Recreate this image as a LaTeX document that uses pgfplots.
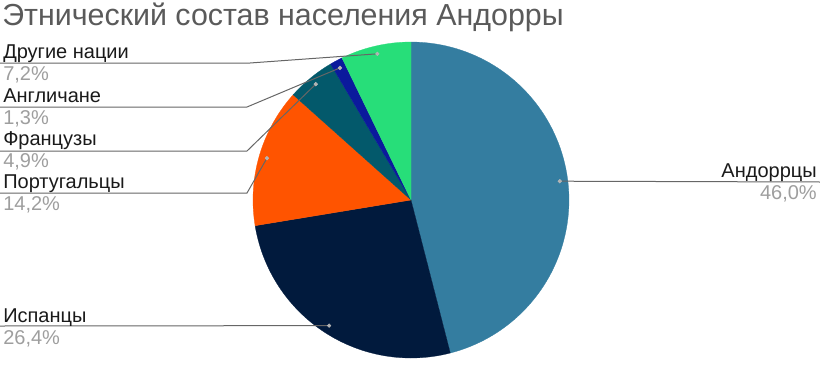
\documentclass[border=0pt]{standalone}
\usepackage{pgfplots}
\usepackage{pgfplotstable}
\pgfplotsset{compat=1.18}
\usepackage{fontspec}
\setmainfont{Liberation Sans}
\definecolor{cA}{HTML}{347DA0}
\definecolor{cB}{HTML}{011A3D}
\definecolor{cC}{HTML}{FF5400}
\definecolor{cD}{HTML}{03596B}
\definecolor{cE}{HTML}{0B1A9C}
\definecolor{cF}{HTML}{27DE79}
\definecolor{ttl}{HTML}{5A5A5A}
\definecolor{pct}{HTML}{9E9E9E}
\definecolor{lead}{HTML}{666666}
\definecolor{txt}{HTML}{1A1A1A}
\pgfplotstableread{
idx value
0 46.0
1 26.4
2 14.2
3 4.9
4 1.3
5 7.2
}\piedata
\newcommand\getval[2]{\pgfplotstablegetelem{#1}{value}\of\piedata\let#2\pgfplotsretval}
\begin{document}
\begin{tikzpicture}
\getval{0}\vA \getval{1}\vB \getval{2}\vC \getval{3}\vD \getval{4}\vE \getval{5}\vF
\def\R{158}\def\r{150}\def\cx{411}\def\cy{200}
\pgfmathsetmacro\aA{90}
\pgfmathsetmacro\bA{\aA-3.6*\vA}
\pgfmathsetmacro\bB{\bA-3.6*\vB}
\pgfmathsetmacro\bC{\bB-3.6*\vC}
\pgfmathsetmacro\bD{\bC-3.6*\vD}
\pgfmathsetmacro\bE{\bD-3.6*\vE}
\pgfmathsetmacro\bF{\bE-3.6*\vF}
% mid points
\pgfmathsetmacro\mA{(\aA+\bA)/2}
\pgfmathsetmacro\mB{(\bA+\bB)/2}
\pgfmathsetmacro\mC{(\bB+\bC)/2}
\pgfmathsetmacro\mD{(\bC+\bD)/2}
\pgfmathsetmacro\mE{(\bD+\bE)/2}
\pgfmathsetmacro\mF{(\bE+\bF)/2}
\pgfmathsetmacro\xA{\cx+\r*cos(\mA)}\pgfmathsetmacro\yA{\cy-\r*sin(\mA)}
\pgfmathsetmacro\xB{\cx+\r*cos(\mB)}\pgfmathsetmacro\yB{\cy-\r*sin(\mB)}
\pgfmathsetmacro\xC{\cx+\r*cos(\mC)}\pgfmathsetmacro\yC{\cy-\r*sin(\mC)}
\pgfmathsetmacro\xD{\cx+\r*cos(\mD)}\pgfmathsetmacro\yD{\cy-\r*sin(\mD)}
\pgfmathsetmacro\xE{\cx+\r*cos(\mE)}\pgfmathsetmacro\yE{\cy-\r*sin(\mE)}
\pgfmathsetmacro\xF{\cx+\r*cos(\mF)}\pgfmathsetmacro\yF{\cy-\r*sin(\mF)}
\begin{axis}[
  name=ax,
  scale only axis, width=615pt, height=273pt,
  xmin=0, xmax=820, ymin=0, ymax=364, y dir=reverse,
  hide axis, clip=false,
]
\addplot[fill=cA, draw=cA, line width=0.2pt, domain=\bA:\aA, samples=90, variable=\t] ({\cx+\R*cos(\t)},{\cy-\R*sin(\t)}) -- (axis cs:\cx,\cy) -- cycle;
\addplot[fill=cB, draw=cB, line width=0.2pt, domain=\bB:\bA, samples=60, variable=\t] ({\cx+\R*cos(\t)},{\cy-\R*sin(\t)}) -- (axis cs:\cx,\cy) -- cycle;
\addplot[fill=cC, draw=cC, line width=0.2pt, domain=\bC:\bB, samples=40, variable=\t] ({\cx+\R*cos(\t)},{\cy-\R*sin(\t)}) -- (axis cs:\cx,\cy) -- cycle;
\addplot[fill=cD, draw=cD, line width=0.2pt, domain=\bD:\bC, samples=20, variable=\t] ({\cx+\R*cos(\t)},{\cy-\R*sin(\t)}) -- (axis cs:\cx,\cy) -- cycle;
\addplot[fill=cE, draw=cE, line width=0.2pt, domain=\bE:\bD, samples=10, variable=\t] ({\cx+\R*cos(\t)},{\cy-\R*sin(\t)}) -- (axis cs:\cx,\cy) -- cycle;
\addplot[fill=cF, draw=cF, line width=0.2pt, domain=\bF:\bE, samples=20, variable=\t] ({\cx+\R*cos(\t)},{\cy-\R*sin(\t)}) -- (axis cs:\cx,\cy) -- cycle;
% leader lines
\tikzset{ld/.style={lead, line width=0.75pt, mark=*, mark size=1.4pt, mark options={fill=gray!60, draw=gray!55, line width=0.3pt}}}
\addplot[ld, mark indices={2}] coordinates {(820,182) (\xA,\yA)};
\addplot[ld, mark indices={2}] coordinates {(0,326) (\xB,\yB)};
\addplot[ld, mark indices={3}] coordinates {(0,193) (247,193) (\xC,\yC)};
\addplot[ld, mark indices={3}] coordinates {(0,151) (247,151) (\xD,\yD)};
\addplot[ld, mark indices={3}] coordinates {(0,107) (247,107) (\xE,\yE)};
\addplot[ld, mark indices={3}] coordinates {(0,63) (250,63) (\xF,\yF)};
% texts
\node[anchor=base west, inner sep=0, text=ttl, font=\fontsize{22.8}{27}\selectfont] at (axis cs:2,25) {Этнический состав населения Андорры};
\tikzset{nm/.style={inner sep=0, text=txt, font=\fontsize{15}{17}\selectfont}, pc/.style={inner sep=0, text=pct, font=\fontsize{15}{17}\selectfont}}
\node[nm, anchor=base west] at (axis cs:3,58) {Другие нации};
\node[pc, anchor=base west] at (axis cs:3,80) {7,2\%};
\node[nm, anchor=base west] at (axis cs:3,102) {Англичане};
\node[pc, anchor=base west] at (axis cs:3,124) {1,3\%};
\node[nm, anchor=base west] at (axis cs:3,145) {Французы};
\node[pc, anchor=base west] at (axis cs:3,167) {4,9\%};
\node[nm, anchor=base west] at (axis cs:3,188) {Португальцы};
\node[pc, anchor=base west] at (axis cs:3,210) {14,2\%};
\node[nm, anchor=base west] at (axis cs:3,322) {Испанцы};
\node[pc, anchor=base west] at (axis cs:3,344) {26,4\%};
\node[nm, anchor=base east] at (axis cs:817,177) {Андоррцы};
\node[pc, anchor=base east] at (axis cs:817,199) {46,0\%};
\end{axis}
\pgfresetboundingbox
\path (ax.south west) rectangle (ax.north east);
\end{tikzpicture}
\end{document}
